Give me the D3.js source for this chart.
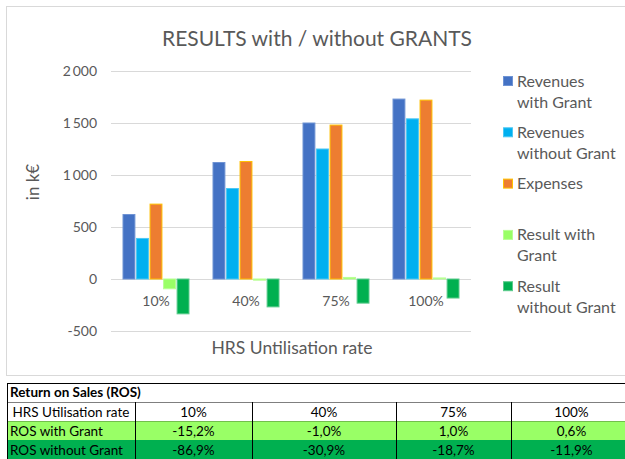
<!DOCTYPE html>
<html><head><meta charset="utf-8">
<script src="https://cdn.jsdelivr.net/npm/d3@7"></script>
<style>
html,body{margin:0;padding:0;background:#fff;overflow:hidden;}
svg{display:block;}
</style></head>
<body>
<svg id="c" width="625" height="459"></svg>
<script>
const categories = ["10%", "40%", "75%", "100%"];
const seriesNames = ["Revenues with Grant", "Revenues without Grant", "Expenses", "Result with Grant", "Result without Grant"];
const revenuesWithGrant = [620, 1120, 1500, 1730];
const revenuesWithoutGrant = [390, 870, 1250, 1540];
const expenses = [720, 1130, 1480, 1720];
const resultWithGrant = [-94, -11, 15, 10];
const resultWithoutGrant = [-335, -268, -232, -183];
const yTicks = [-500, 0, 500, 1000, 1500, 2000];
const legendLines = [["Revenues", "with Grant"], ["Revenues", "without Grant"], ["Expenses"], ["Result with", "Grant"], ["Result", "without Grant"]];
const tableTitle = "Return on Sales (ROS)";
const tableRowLabels = ["HRS Utilisation rate", "ROS with Grant", "ROS without Grant"];
const rosWithGrant = ["-15,2%", "-1,0%", "1,0%", "0,6%"];
const rosWithoutGrant = ["-86,9%", "-30,9%", "-18,7%", "-11,9%"];

(function () {
const seriesValues = [revenuesWithGrant, revenuesWithoutGrant, expenses, resultWithGrant, resultWithoutGrant];
const fills = ["#4472C4", "#00B0F0", "#ED7D31", "#99FF66", "#00B050"];
const strokes = ["#6E93D4", "#4CC8F4", "#FFC000", "#B8FF94", "#5CCB8C"];
const FONT = "Lato, 'Open Sans', sans-serif";

const svg = d3.select("#c");
svg.append("rect").attr("x", 6.5).attr("y", 6.5).attr("width", 640).attr("height", 369)
  .attr("fill", "#fff").attr("stroke", "#D9D9D9");

svg.append("text").attr("x", 317).attr("y", 46).attr("text-anchor", "middle")
  .attr("font-family", FONT).attr("font-size", 21).attr("fill", "#595959")
  .text("RESULTS with / without GRANTS");

const pL = 111, pR = 471, pT = 71, pB = 331;
const y = d3.scaleLinear().domain([-500, 2000]).range([pB, pT]);
const x0 = d3.scaleBand().domain(categories).range([pL, pR]).paddingInner(0).paddingOuter(0);
const x1 = d3.scaleBand().domain(d3.range(5)).range([12, x0.bandwidth() - 12]).paddingInner(0.12).paddingOuter(0);

svg.append("g").selectAll("line").data(yTicks).join("line")
  .attr("x1", pL).attr("x2", pR)
  .attr("y1", d => Math.round(y(d)) + 0.5).attr("y2", d => Math.round(y(d)) + 0.5)
  .attr("stroke", "#D9D9D9").attr("stroke-width", 1);

const yAxis = d3.axisLeft(y).tickValues(yTicks).tickSize(0).tickPadding(0)
  .tickFormat(d => d3.format(",")(d).replace(/,/g, "\u2009").replace("\u2212", "-"));
const gy = svg.append("g").attr("transform", `translate(97,0)`).call(yAxis);
gy.select(".domain").remove();
gy.selectAll("text").attr("font-family", FONT).attr("font-size", 14).attr("fill", "#595959");

const groups = svg.append("g").selectAll("g").data(categories).join("g")
  .attr("transform", d => `translate(${x0(d)},0)`);
groups.selectAll("rect").data((d, i) => seriesValues.map((s, k) => ({k, v: s[i]}))).join("rect")
  .attr("x", d => x1(d.k)).attr("width", x1.bandwidth())
  .attr("y", d => y(Math.max(0, d.v))).attr("height", d => Math.abs(y(d.v) - y(0)))
  .attr("fill", d => fills[d.k]).attr("stroke", d => strokes[d.k]).attr("stroke-width", 1);

svg.append("g").selectAll("text").data(categories).join("text")
  .attr("x", d => x0(d) + x0.bandwidth() / 2).attr("y", 306).attr("text-anchor", "middle")
  .attr("font-family", FONT).attr("font-size", 14).attr("fill", "#595959").text(d => d);

svg.append("text").attr("transform", "translate(39,182) rotate(-90)").attr("text-anchor", "middle")
  .attr("font-family", FONT).attr("font-size", 17).attr("fill", "#595959").text("in k€");
svg.append("text").attr("x", 292).attr("y", 354).attr("text-anchor", "middle")
  .attr("font-family", FONT).attr("font-size", 17.5).attr("fill", "#595959").text("HRS Untilisation rate");

const lg = svg.append("g").selectAll("g").data(seriesNames).join("g")
  .attr("transform", (d, i) => `translate(503,${81 + i * 51.3})`);
lg.append("rect").attr("x", 0.5).attr("y", -4.5).attr("width", 9).attr("height", 9)
  .attr("fill", (d, i) => fills[i]).attr("stroke", (d, i) => strokes[i]);
lg.each(function (d, i) {
  const t = d3.select(this).append("text").attr("x", 14).attr("y", 5.5)
    .attr("font-family", FONT).attr("font-size", 16).attr("fill", "#595959");
  legendLines[i].forEach((ln, j) => t.append("tspan").attr("x", 14).attr("dy", j === 0 ? 0 : 21).text(ln));
});

const colX = [7, 135, 252, 396, 511, 632];
const rowY = [383, 402, 421, 440, 459];
const T = svg.append("g");
const rowFills = ["#FFFFFF", "#99FF66", "#00B050"];
const rowData = [categories, rosWithGrant, rosWithoutGrant];
rowData.forEach((vals, r) => {
  T.append("rect").attr("x", colX[0]).attr("y", rowY[r + 1]).attr("width", colX[5] - colX[0])
    .attr("height", rowY[r + 2] - rowY[r + 1]).attr("fill", rowFills[r]);
});
T.append("text").attr("x", 10).attr("y", rowY[0] + 14).attr("font-family", "Lato, sans-serif")
  .attr("font-weight", "bold").attr("font-size", 13.5).attr("fill", "#000").text(tableTitle);
T.append("line").attr("x1", colX[0]).attr("x2", colX[5]).attr("y1", rowY[0] + 0.5).attr("y2", rowY[0] + 0.5).attr("stroke", "#000");
T.append("line").attr("x1", colX[0]).attr("x2", colX[5]).attr("y1", rowY[1] + 0.5).attr("y2", rowY[1] + 0.5).attr("stroke", "#7F7F7F");
T.append("line").attr("x1", colX[0] + 0.5).attr("x2", colX[0] + 0.5).attr("y1", rowY[0]).attr("y2", 459).attr("stroke", "#000");
colX.slice(1, 5).forEach(cx => T.append("line").attr("x1", cx + 0.5).attr("x2", cx + 0.5)
  .attr("y1", rowY[1]).attr("y2", 459).attr("stroke", "#000"));
T.append("line").attr("x1", colX[0]).attr("x2", colX[5]).attr("y1", rowY[2] + 0.5).attr("y2", rowY[2] + 0.5).attr("stroke", "#000").attr("stroke-opacity", 0.25);
rowData.forEach((vals, r) => {
  const yy = rowY[r + 1] + 14.5;
  T.append("text").attr("x", r === 0 ? (colX[0] + colX[1]) / 2 : 10).attr("y", yy)
    .attr("text-anchor", r === 0 ? "middle" : "start")
    .attr("font-family", "Lato, sans-serif").attr("font-size", 13.5).attr("fill", "#000").text(tableRowLabels[r]);
  vals.forEach((v, c) => T.append("text").attr("x", (colX[c + 1] + colX[c + 2]) / 2).attr("y", yy)
    .attr("text-anchor", "middle").attr("font-family", "Lato, sans-serif").attr("font-size", 13.5).attr("fill", "#000").text(v));
});
})();
</script>
</body></html>
